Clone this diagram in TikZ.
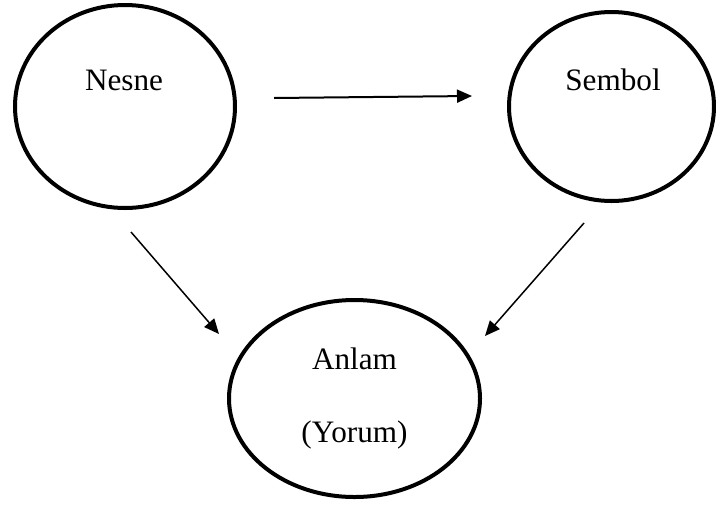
\documentclass[tikz,border=0pt]{standalone}
\usepackage{fontspec}
\setmainfont{Liberation Serif}
\usetikzlibrary{shapes.geometric,arrows.meta}
\begin{document}
\begin{tikzpicture}[x=0.5pt,y=-0.5pt,
  oval/.style={draw,ellipse,line width=2pt,inner sep=0pt},
  word/.style={font=\fontsize{15.6}{18}\selectfont},
  arr/.style={-{Triangle[length=7.5pt,width=6.5pt]},line width=1pt}]
\useasboundingbox (0,0) rectangle (716,504);
\node[oval,minimum width=110pt,minimum height=101.5pt] (nesne) at (125,106.5) {};
\node[oval,minimum width=102.5pt,minimum height=94.5pt] (sembol) at (611.5,106.5) {};
\node[oval,word,align=center,minimum width=125.5pt,minimum height=98.5pt] (anlam) at (354.5,398.5) {Anlam\\[18.5pt](Yorum)};
\node[word] (nesnetxt) at (124,80) {Nesne};
\node[word] (semboltxt) at (613,80) {Sembol};
\coordinate (nesneout) at (274,98);
\coordinate (sembolin) at (472,96);
\coordinate (nesnedown) at (131,232);
\coordinate (anlamleft) at (219,334);
\coordinate (semboldown) at (584,223);
\coordinate (anlamright) at (485,336);
\draw[arr] (nesneout) -- (sembolin);
\draw[arr,line width=0.75pt] (nesnedown) -- (anlamleft);
\draw[arr,line width=0.75pt] (semboldown) -- (anlamright);
\end{tikzpicture}
\end{document}
